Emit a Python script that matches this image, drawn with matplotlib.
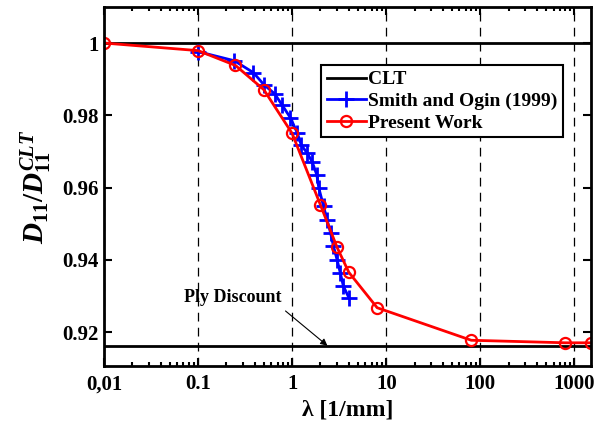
import numpy as np
import matplotlib.pyplot as plt
from matplotlib.ticker import FixedLocator, LogLocator, NullFormatter

plt.rcParams['font.family'] = 'Liberation Serif'
plt.rcParams['font.weight'] = 'bold'
plt.rcParams['mathtext.fontset'] = 'custom'
plt.rcParams['mathtext.it'] = 'Liberation Serif:italic:bold'
plt.rcParams['mathtext.rm'] = 'Liberation Serif:bold'
plt.rcParams['mathtext.bf'] = 'Liberation Serif:bold'

# data
clt_value = 1.0
ply_discount = 0.9163

smith_lam = [0.101, 0.243, 0.388, 0.50, 0.65, 0.78, 0.96, 1.13, 1.25, 1.44, 1.63,
             1.83, 1.92, 2.16, 2.35, 2.56, 2.75, 3.0, 3.25, 3.5, 4.0]
smith_d = [0.9976, 0.9951, 0.9918, 0.9885, 0.9860, 0.9829, 0.9793, 0.9752, 0.9718,
           0.9696, 0.9672, 0.9635, 0.9599, 0.9548, 0.9511, 0.9475, 0.9438, 0.9401,
           0.9364, 0.9328, 0.9296]

present_lam = [0.01, 0.1, 0.25, 0.5, 1.0, 2.0, 3.0, 4.0, 8.0, 80, 800, 1500]
present_d = [1.0, 0.9979, 0.9938, 0.9871, 0.975, 0.9552, 0.9435, 0.9366, 0.9268,
             0.9178, 0.9171, 0.9171]

xticks = [0.01, 0.1, 1, 10, 100, 1000]
xticklabels = ['0,01', '0.1', '1', '10', '100', '1000']
yticks = [0.92, 0.94, 0.96, 0.98, 1.0]
yticklabels = ['0.92', '0.94', '0.96', '0.98', '1']

fig = plt.figure(figsize=(5.94, 4.29), dpi=100)
ax = fig.add_axes([0.175, 0.147, 0.820, 0.837])

ax.axhline(clt_value, color='black', lw=2, label='CLT')
ax.axhline(ply_discount, color='black', lw=2)
ax.plot(smith_lam, smith_d, color='blue', lw=2, marker='+', ms=11, mew=2,
        label='Smith and Ogin (1999)')
ax.plot(present_lam, present_d, color='red', lw=2, marker='o', ms=8, mew=1.6,
        mfc='none', label='Present Work')

ax.set_xscale('log')
ax.set_xlim(0.01, 1500)
ax.set_ylim(0.9107, 1.01)
ax.xaxis.set_major_locator(FixedLocator(xticks))
ax.set_xticklabels(xticklabels)
ax.xaxis.set_minor_locator(LogLocator(base=10, subs=np.arange(2, 10), numticks=20))
ax.xaxis.set_minor_formatter(NullFormatter())
ax.set_yticks(yticks)
ax.set_yticklabels(yticklabels)
ax.tick_params(which='both', direction='in', top=True, right=True, labelsize=15,
               width=1.5)
ax.tick_params(which='major', length=6)
ax.tick_params(which='minor', length=3)
ax.tick_params(axis='x', pad=6)
ax.grid(True, axis='x', which='major', color='black', ls=(0, (7, 5)), lw=0.9)
for s in ax.spines.values():
    s.set_linewidth(2)

ax.set_xlabel('λ [1/mm]', fontsize=17, fontweight='bold', labelpad=4)
ax.set_ylabel(r'$D_{11}/D_{11}^{CLT}$', fontsize=21, labelpad=6)

ax.text(0.232, 0.9297, 'Ply Discount', fontsize=13, fontweight='bold',
        ha='center', va='center')
ax.annotate('', xy=(2.37, ply_discount), xytext=(0.85, 0.9259),
            arrowprops=dict(arrowstyle='-|>', color='black', lw=0.8,
                            shrinkA=0, shrinkB=0, mutation_scale=10))

leg = ax.legend(loc='upper right', bbox_to_anchor=(0.9425, 0.838), fontsize=14,
                frameon=True, fancybox=False, handlelength=2.0, handletextpad=0.1,
                borderpad=0.3, labelspacing=0.2, borderaxespad=0)
leg.get_frame().set_edgecolor('black')
leg.get_frame().set_linewidth(1.5)
leg.get_frame().set_alpha(1)

fig.savefig('out.png', dpi=100)
